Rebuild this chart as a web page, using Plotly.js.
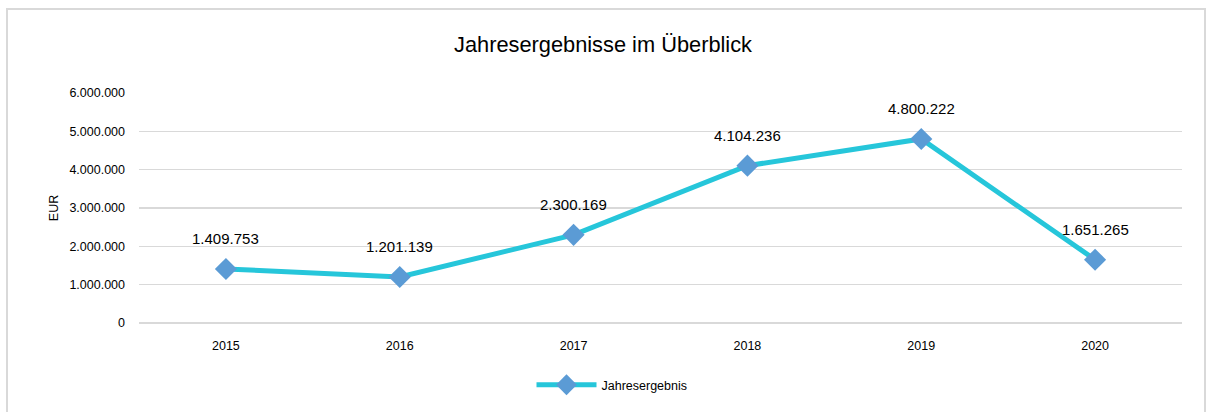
<!DOCTYPE html>
<html><head><meta charset="utf-8">
<script src="https://cdn.plot.ly/plotly-3.0.1.min.js"></script>
<style>
html,body{margin:0;padding:0;background:#fff;}
#wrap{position:relative;width:1206px;height:412px;overflow:hidden;}
#frame{position:absolute;left:6px;top:8px;width:1200px;height:420px;border:2px solid #d9d9d9;box-sizing:border-box;pointer-events:none;}
#chart{position:absolute;left:0;top:0;width:1206px;height:412px;}
</style></head>
<body>
<div id="wrap"><div id="chart"></div><div id="frame"></div></div>
<script>
const years = ['2015','2016','2017','2018','2019','2020'];
const results = [1409753, 1201139, 2300169, 4104236, 4800222, 1651265];
const yTicks = [0,1000000,2000000,3000000,4000000,5000000,6000000];

function fmt(v){ return v.toString().replace(/\B(?=(\d{3})+(?!\d))/g,'.'); }

const trace = {
  x: years, y: results, type:'scatter', mode:'lines+markers',
  name:'Jahresergebnis',
  line:{color:'#26C6DA', width:5},
  marker:{symbol:'diamond', size:17, color:'#5B9BD5'},
  hoverinfo:'skip'
};
const annotations = years.map((yr,i)=>({
  x: i, y: results[i], xref:'x', yref:'y', text: fmt(results[i]),
  showarrow:false, yshift:30, font:{family:'Liberation Sans, Arial, sans-serif', size:15, color:'#000'}
}));
const layout = {
  width:1206, height:412,
  margin:{l:139, r:24, t:93, b:87},
  paper_bgcolor:'rgba(0,0,0,0)', plot_bgcolor:'rgba(0,0,0,0)',
  font:{family:'Liberation Sans, Arial, sans-serif', color:'#000'},
  title:{text:'Jahresergebnisse im Überblick', x:0.5, xanchor:'center', y:0.892, yanchor:'middle',
         font:{size:21.8, color:'#000'}},
  xaxis:{type:'category', range:[-0.5,5.5], showgrid:false, zeroline:false, showline:false,
         ticks:'', tickfont:{size:12.5}, ticklabelstandoff:13, fixedrange:true},
  yaxis:{range:[0,6000000], tickvals:yTicks, ticktext:yTicks.map(fmt), showgrid:true,
         gridcolor:'#d9d9d9', gridwidth:1.6, zeroline:true, zerolinecolor:'#d9d9d9', zerolinewidth:1.6,
         showline:false, ticks:'',
         tickfont:{size:12.5}, ticklabelstandoff:13,
         title:{text:'EUR', font:{size:12.5}, standoff:8}, fixedrange:true},
  showlegend:true,
  legend:{orientation:'h', x:0.4535, xanchor:'center', y:-0.27, yanchor:'middle',
          font:{size:12.5}, itemwidth:60},
  annotations: annotations
};
Plotly.newPlot('chart',[trace],layout,{displayModeBar:false, staticPlot:true});
</script>
</body></html>
